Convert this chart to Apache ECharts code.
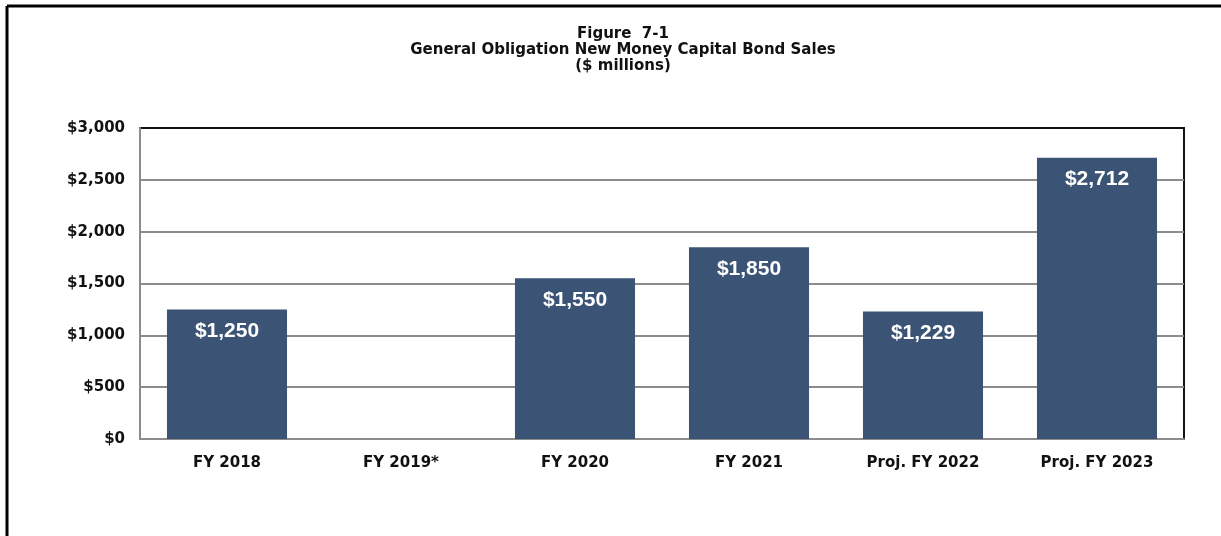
<!DOCTYPE html>
<html>
<head>
<meta charset="utf-8">
<script src="https://cdn.jsdelivr.net/npm/echarts@6/dist/echarts.min.js"></script>
<style>
  html, body { margin: 0; padding: 0; background: #fff; }
  #main { width: 1221px; height: 536px; }
</style>
</head>
<body>
<div id="main"></div>
<script>
// 数据
var categories = ['FY 2018', 'FY 2019*', 'FY 2020', 'FY 2021', 'Proj. FY 2022', 'Proj. FY 2023'];
var bondSales = [1250, null, 1550, 1850, 1229, 2712];
var yTicks = [0, 500, 1000, 1500, 2000, 2500, 3000];

var labelFont = '"DejaVu Sans", Verdana, sans-serif';

var myChart = echarts.init(document.getElementById('main'));

var option = {
    animation: false,
    backgroundColor: '#fff',
    title: {
        text: 'Figure  7-1\nGeneral Obligation New Money Capital Bond Sales\n($ millions)',
        left: 618,
        top: 21,
        textAlign: 'center',
        textStyle: {
            fontFamily: labelFont,
            fontWeight: 'bold',
            fontSize: 15,
            lineHeight: 16,
            color: '#111'
        }
    },
    graphic: [
        // 外框（只有左边和上边）
        { type: 'line', shape: { x1: 7, y1: 6, x2: 1221, y2: 6 }, style: { stroke: '#000', lineWidth: 3 } },
        { type: 'line', shape: { x1: 7, y1: 6, x2: 7, y2: 536 }, style: { stroke: '#000', lineWidth: 3 } }
    ],
    grid: {
        left: 140,
        right: 37,
        top: 128,
        bottom: 97,
        show: true,
        borderColor: '#111',
        borderWidth: 2
    },
    xAxis: {
        type: 'category',
        data: categories,
        axisLine: { lineStyle: { color: '#8c8c8c', width: 2 } },
        axisTick: { show: false },
        axisLabel: {
            margin: 17,
            fontFamily: labelFont,
            fontWeight: 'bold',
            fontSize: 15,
            color: '#111'
        }
    },
    yAxis: {
        type: 'value',
        min: yTicks[0],
        max: yTicks[yTicks.length - 1],
        interval: 500,
        axisLine: { show: true, lineStyle: { color: '#8c8c8c', width: 2 } },
        axisTick: { show: false },
        splitLine: { showMaxLine: false, showMinLine: false, lineStyle: { color: '#8c8c8c', width: 2 } },
        axisLabel: {
            margin: 15,
            fontFamily: labelFont,
            fontWeight: 'bold',
            fontSize: 15,
            color: '#111',
            formatter: function (v) {
                return '$' + v.toLocaleString('en-US');
            }
        }
    },
    series: [
        {
            name: 'GO Bond Sales',
            type: 'bar',
            data: bondSales,
            barWidth: '69%',
            itemStyle: { color: '#3b5375' },
            label: {
                show: true,
                position: 'insideTop',
                distance: 11,
                fontFamily: '"Liberation Sans", Arial, sans-serif',
                fontWeight: 'bold',
                fontSize: 21,
                color: '#fff',
                formatter: function (p) {
                    return '$' + p.value.toLocaleString('en-US');
                }
            }
        }
    ]
};

myChart.setOption(option);
</script>
</body>
</html>
